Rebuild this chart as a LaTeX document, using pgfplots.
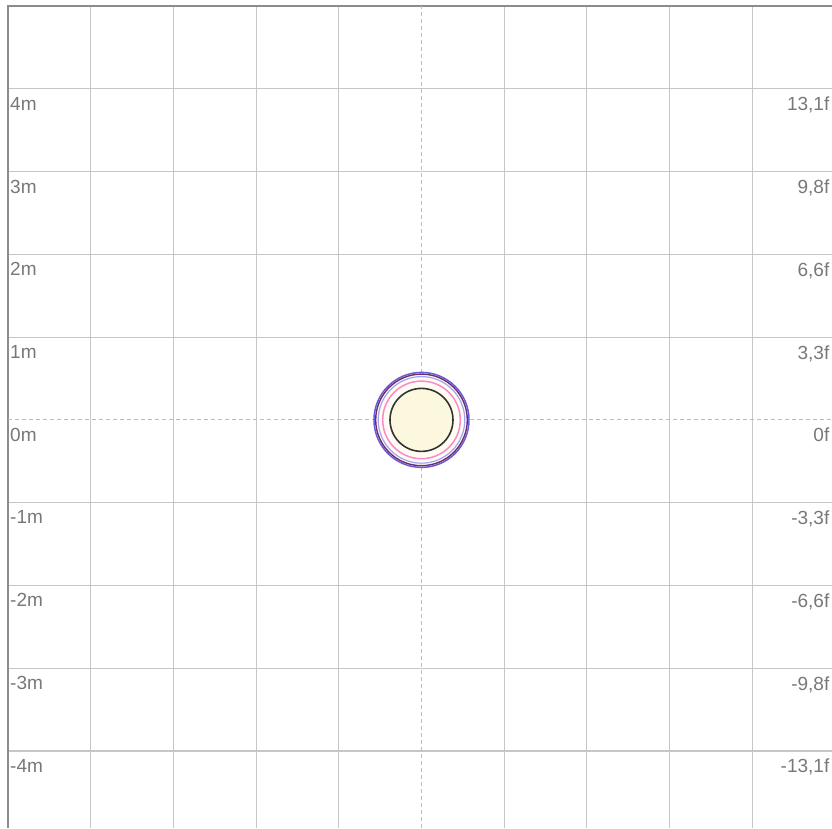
\documentclass[border=0pt]{standalone}
\usepackage{pgfplots}
\pgfplotsset{compat=1.18}
\usepackage{fontspec}
\setmainfont{Liberation Sans}
\definecolor{gridc}{HTML}{C6C6C6}
\definecolor{bordc}{HTML}{8C8C8C}
\definecolor{lblc}{HTML}{787878}
\definecolor{dashc}{HTML}{BDBDBD}
\definecolor{ringblue}{HTML}{6A5BD8}
\definecolor{ringpurple}{HTML}{6B2D72}
\definecolor{ringlav}{HTML}{A3A3F2}
\definecolor{ringpink}{HTML}{FF88C8}
\definecolor{ringblack}{HTML}{333333}
\definecolor{fillcore}{HTML}{FCF8DD}
\definecolor{fillouter}{HTML}{FFFDF3}
\tikzset{lbl/.style={inner sep=0pt, text=lblc, font=\fontsize{19}{21}\selectfont}}
\begin{document}
\begin{tikzpicture}
\useasboundingbox (0,0) rectangle (832pt,828pt);
\begin{axis}[
  at={(8pt,0pt)}, anchor=south west,
  scale only axis, width=824pt, height=822pt,
  xmin=-5, xmax=4.964, ymin=-4.93, ymax=5,
  axis line style={draw=none},
  xtick={-4,-3,-2,-1,1,2,3,4},
  ytick={-4,-3,-2,-1,1,2,3,4},
  xticklabels={}, yticklabels={},
  major tick length=0pt,
  grid=major,
  major grid style={gridc, line width=1.1pt},
  clip=false,
]
% border (left and top)
\addplot[bordc, line width=1.6pt] coordinates {(-5,-4.93) (-5,5) (4.964,5)};
% circles (radius in pt = px)
\addplot[only marks, mark=*, mark size=47.5pt, mark options={draw=ringblue, fill=fillouter, line width=1.5pt}] coordinates {(0,0)};
\addplot[only marks, mark=o, mark size=45.8pt, mark options={draw=ringpurple, line width=1.4pt}] coordinates {(0,0)};
\addplot[only marks, mark=o, mark size=43.3pt, mark options={draw=ringlav, line width=1.2pt}] coordinates {(0,0)};
\addplot[only marks, mark=o, mark size=38.8pt, mark options={draw=ringpink, line width=1.5pt}] coordinates {(0,0)};
\addplot[only marks, mark=*, mark size=31.5pt, mark options={draw=ringblack, fill=fillcore, line width=1.6pt}] coordinates {(0,0)};
% center dashed lines
\addplot[dashc, line width=1pt, dash pattern=on 4pt off 3pt] coordinates {(0,-4.93) (0,5)};
\addplot[dashc, line width=1pt, dash pattern=on 4pt off 3pt] coordinates {(-5,0) (4.964,0)};
% left labels
\node[lbl, anchor=north west, xshift=2pt, yshift=-8pt] at (axis cs:-5,4) {4m};
\node[lbl, anchor=north west, xshift=2pt, yshift=-8pt] at (axis cs:-5,3) {3m};
\node[lbl, anchor=north west, xshift=2pt, yshift=-8pt] at (axis cs:-5,2) {2m};
\node[lbl, anchor=north west, xshift=2pt, yshift=-8pt] at (axis cs:-5,1) {1m};
\node[lbl, anchor=north west, xshift=2pt, yshift=-8pt] at (axis cs:-5,0) {0m};
\node[lbl, anchor=north west, xshift=2pt, yshift=-8pt] at (axis cs:-5,-1) {-1m};
\node[lbl, anchor=north west, xshift=2pt, yshift=-8pt] at (axis cs:-5,-2) {-2m};
\node[lbl, anchor=north west, xshift=2pt, yshift=-8pt] at (axis cs:-5,-3) {-3m};
\node[lbl, anchor=north west, xshift=2pt, yshift=-8pt] at (axis cs:-5,-4) {-4m};
% right labels
\node[lbl, anchor=north east, xshift=-2.5pt, yshift=-8pt] at (axis cs:4.964,4) {13,1f};
\node[lbl, anchor=north east, xshift=-2.5pt, yshift=-8pt] at (axis cs:4.964,3) {9,8f};
\node[lbl, anchor=north east, xshift=-2.5pt, yshift=-8pt] at (axis cs:4.964,2) {6,6f};
\node[lbl, anchor=north east, xshift=-2.5pt, yshift=-8pt] at (axis cs:4.964,1) {3,3f};
\node[lbl, anchor=north east, xshift=-2.5pt, yshift=-8pt] at (axis cs:4.964,0) {0f};
\node[lbl, anchor=north east, xshift=-2.5pt, yshift=-8pt] at (axis cs:4.964,-1) {-3,3f};
\node[lbl, anchor=north east, xshift=-2.5pt, yshift=-8pt] at (axis cs:4.964,-2) {-6,6f};
\node[lbl, anchor=north east, xshift=-2.5pt, yshift=-8pt] at (axis cs:4.964,-3) {-9,8f};
\node[lbl, anchor=north east, xshift=-2.5pt, yshift=-8pt] at (axis cs:4.964,-4) {-13,1f};
\end{axis}
\end{tikzpicture}
\end{document}
